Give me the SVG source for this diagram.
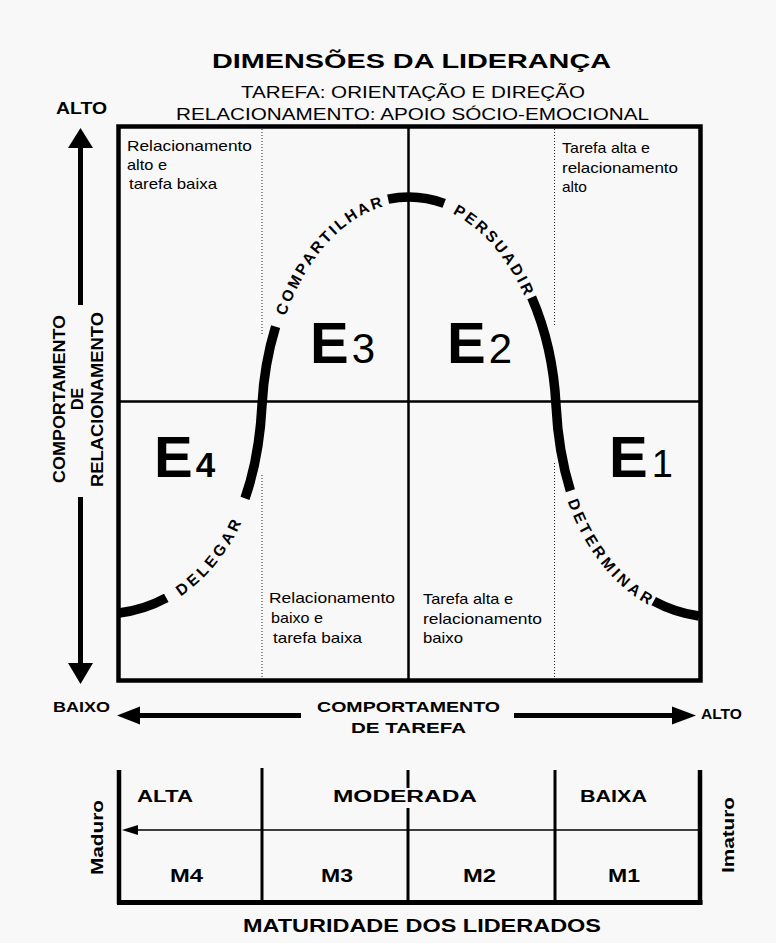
<svg xmlns="http://www.w3.org/2000/svg" width="776" height="943" viewBox="0 0 776 943">
<style>
.t{font-family:"Liberation Sans",Arial,sans-serif;fill:#000}
.b{font-weight:bold}
.ln{stroke:#000;fill:none}
.dot{stroke:#222;stroke-width:1;stroke-dasharray:1 2;fill:none}
.corner{font-size:15px}
.crv{font-size:15.5px;font-weight:bold;letter-spacing:3px}
</style>
<defs>
<path id="curve" d="M119,613 C185,605 255,545 262,405 C268,290 330,197 409,197 C488,197 550,290 556,405 C563,545 633,607 699,616"/>
</defs>
<rect x="0" y="0" width="776" height="943" fill="#f8f8f8"/>

<g id="title">
<text class="t b" x="212" y="68" font-size="20" textLength="399" lengthAdjust="spacingAndGlyphs">DIMENSÕES DA LIDERANÇA</text>
<text class="t" x="241" y="98" font-size="17" textLength="344" lengthAdjust="spacingAndGlyphs">TAREFA: ORIENTAÇÃO E DIREÇÃO</text>
<text class="t" x="176" y="120" font-size="17" textLength="473" lengthAdjust="spacingAndGlyphs">RELACIONAMENTO: APOIO SÓCIO-EMOCIONAL</text>
</g>

<g id="grid">
<rect class="ln" x="118.5" y="126.5" width="582" height="554" stroke-width="4.5"/>
<line class="ln" x1="120" y1="401.5" x2="699" y2="401.5" stroke-width="2.5"/>
<line class="ln" x1="408.5" y1="128" x2="408.5" y2="679" stroke-width="2.5"/>
<line class="dot" x1="262" y1="129" x2="262" y2="335"/>
<line class="dot" x1="262" y1="475" x2="262" y2="679"/>
<line class="dot" x1="554.5" y1="129" x2="554.5" y2="325"/>
<line class="dot" x1="554.5" y1="463" x2="554.5" y2="679"/>
</g>

<g id="quadrant-e3">
<text class="t corner" x="127" y="151" textLength="125" lengthAdjust="spacingAndGlyphs">Relacionamento</text>
<text class="t corner" x="127" y="170" textLength="40" lengthAdjust="spacingAndGlyphs">alto e</text>
<text class="t corner" x="129" y="189" textLength="88" lengthAdjust="spacingAndGlyphs">tarefa baixa</text>
<text class="t" x="310" y="363"><tspan class="b" font-size="58">E</tspan><tspan font-size="42" dx="3">3</tspan></text>
</g>

<g id="quadrant-e2">
<text class="t corner" x="562" y="153" textLength="88" lengthAdjust="spacingAndGlyphs">Tarefa alta e</text>
<text class="t corner" x="562" y="173" textLength="116" lengthAdjust="spacingAndGlyphs">relacionamento</text>
<text class="t corner" x="562" y="192" textLength="25" lengthAdjust="spacingAndGlyphs">alto</text>
<text class="t" x="447" y="363"><tspan class="b" font-size="58">E</tspan><tspan font-size="42" dx="3">2</tspan></text>
</g>

<g id="quadrant-e4">
<text class="t corner" x="269" y="603" textLength="126" lengthAdjust="spacingAndGlyphs">Relacionamento</text>
<text class="t corner" x="271" y="623" textLength="52" lengthAdjust="spacingAndGlyphs">baixo e</text>
<text class="t corner" x="273" y="643" textLength="89" lengthAdjust="spacingAndGlyphs">tarefa baixa</text>
<text class="t" x="154" y="477"><tspan class="b" font-size="58">E</tspan><tspan class="b" font-size="35" dx="3">4</tspan></text>
</g>

<g id="quadrant-e1">
<text class="t corner" x="423" y="604" textLength="90" lengthAdjust="spacingAndGlyphs">Tarefa alta e</text>
<text class="t corner" x="423" y="624" textLength="119" lengthAdjust="spacingAndGlyphs">relacionamento</text>
<text class="t corner" x="423" y="643" textLength="40" lengthAdjust="spacingAndGlyphs">baixo</text>
<text class="t" x="609" y="477"><tspan class="b" font-size="58">E</tspan><tspan font-size="38" dx="4">1</tspan></text>
</g>

<g id="connectors">
<path class="ln" d="M119,613 C185,605 255,545 262,405 C268,290 330,197 409,197 C488,197 550,290 556,405 C563,545 633,607 699,616" pathLength="1110" stroke-width="9.5" stroke-dasharray="50 130 175 178 57 132 198 142 48 10"/>
<text class="t crv" dominant-baseline="central" text-anchor="middle"><textPath href="#curve" startOffset="10%">DELEGAR</textPath></text>
<text class="t crv" dominant-baseline="central" text-anchor="middle"><textPath href="#curve" startOffset="40.4%">COMPARTILHAR</textPath></text>
<text class="t crv" dominant-baseline="central" text-anchor="middle"><textPath href="#curve" startOffset="59.6%">PERSUADIR</textPath></text>
<text class="t crv" dominant-baseline="central" text-anchor="middle"><textPath href="#curve" startOffset="89.7%">DETERMINAR</textPath></text>
</g>

<g id="axis-relationship">
<text class="t b" x="56" y="114" font-size="16" textLength="51" lengthAdjust="spacingAndGlyphs">ALTO</text>
<line class="ln" x1="80.5" y1="146" x2="80.5" y2="305" stroke-width="5"/>
<polygon points="80.5,128 68,148 93,148" fill="#000"/>
<line class="ln" x1="80.5" y1="497" x2="80.5" y2="665" stroke-width="5"/>
<polygon points="68,663 93,663 80.5,684" fill="#000"/>
<text class="t b" font-size="16" text-anchor="middle" transform="translate(65,399) rotate(-90)" textLength="168" lengthAdjust="spacingAndGlyphs">COMPORTAMENTO</text>
<text class="t b" font-size="16" text-anchor="middle" transform="translate(83,399) rotate(-90)">DE</text>
<text class="t b" font-size="16" text-anchor="middle" transform="translate(103,399.5) rotate(-90)" textLength="175" lengthAdjust="spacingAndGlyphs">RELACIONAMENTO</text>
</g>

<g id="axis-task">
<text class="t b" x="53" y="712" font-size="15" textLength="57" lengthAdjust="spacingAndGlyphs">BAIXO</text>
<polygon points="117,715.5 140,706.5 140,724.5" fill="#000"/>
<line class="ln" x1="138" y1="715.5" x2="301" y2="715.5" stroke-width="5"/>
<line class="ln" x1="514" y1="715.5" x2="674" y2="715.5" stroke-width="5"/>
<polygon points="672,706.5 672,724.5 696,715.5" fill="#000"/>
<text class="t b" x="701" y="719" font-size="15" textLength="41" lengthAdjust="spacingAndGlyphs">ALTO</text>
<text class="t b" x="317" y="712" font-size="15" textLength="183" lengthAdjust="spacingAndGlyphs">COMPORTAMENTO</text>
<text class="t b" x="351" y="733" font-size="15" textLength="115" lengthAdjust="spacingAndGlyphs">DE TAREFA</text>
</g>

<g id="maturity">
<line class="ln" x1="119" y1="770" x2="119" y2="904" stroke-width="4.5"/>
<line class="ln" x1="700" y1="770" x2="700" y2="904" stroke-width="4.5"/>
<line class="ln" x1="117" y1="902.5" x2="702.5" y2="902.5" stroke-width="5"/>
<line class="ln" x1="262" y1="768" x2="262" y2="901" stroke-width="3"/>
<line class="ln" x1="408" y1="770" x2="408" y2="788" stroke-width="3"/>
<line class="ln" x1="408" y1="808" x2="408" y2="901" stroke-width="3"/>
<line class="ln" x1="555" y1="770" x2="555" y2="901" stroke-width="3"/>
<line class="ln" x1="136" y1="830" x2="698" y2="830" stroke-width="1.5"/>
<polygon points="122,830 138,825 138,835" fill="#000"/>
<text class="t b" x="137" y="802" font-size="16" textLength="56" lengthAdjust="spacingAndGlyphs">ALTA</text>
<text class="t b" x="333" y="802" font-size="16" textLength="144" lengthAdjust="spacingAndGlyphs">MODERADA</text>
<text class="t b" x="580" y="802" font-size="16" textLength="67" lengthAdjust="spacingAndGlyphs">BAIXA</text>
<text class="t b" x="170" y="882" font-size="18" textLength="33" lengthAdjust="spacingAndGlyphs">M4</text>
<text class="t b" x="321" y="882" font-size="18" textLength="32" lengthAdjust="spacingAndGlyphs">M3</text>
<text class="t b" x="463" y="882" font-size="18" textLength="33" lengthAdjust="spacingAndGlyphs">M2</text>
<text class="t b" x="608" y="882" font-size="18" textLength="32" lengthAdjust="spacingAndGlyphs">M1</text>
<text class="t b" font-size="17" text-anchor="middle" transform="translate(103,837.5) rotate(-90)" textLength="75" lengthAdjust="spacingAndGlyphs">Maduro</text>
<text class="t b" font-size="17" text-anchor="middle" transform="translate(734,835) rotate(-90)" textLength="76" lengthAdjust="spacingAndGlyphs">Imaturo</text>
<text class="t b" x="243" y="932" font-size="19" textLength="358" lengthAdjust="spacingAndGlyphs">MATURIDADE DOS LIDERADOS</text>
</g>
</svg>
